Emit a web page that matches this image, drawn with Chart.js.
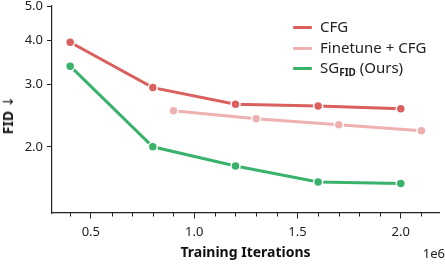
<!DOCTYPE html>
<html>
<head>
<meta charset="utf-8">
<script src="https://cdn.jsdelivr.net/npm/chart.js@4/dist/chart.umd.min.js"></script>
<style>
  html, body { margin: 0; padding: 0; background: #fff; }
  #wrap { position: relative; width: 445px; height: 265px; font-family: "Noto Sans", sans-serif; }
  #legend { position: absolute; left: 293px; top: 16px; font-size: 15px; color: #222; }
  .row { height: 20.5px; line-height: 20.5px; white-space: nowrap; }
  .swatch { display: inline-block; width: 19px; height: 3px; vertical-align: middle; margin-right: 8px; border-radius: 1px; }
  .sub { font-weight: bold; font-size: 10px; position: relative; top: 3px; }
  #offset { position: absolute; right: 0px; top: 244px; font-size: 13px; line-height: 18px; color: #222; }
  #ytitle { position: absolute; left: 8px; top: 115px; transform: translate(-50%, -50%) rotate(-90deg);
            font-size: 14px; font-weight: bold; line-height: 16px; color: #111; white-space: nowrap; }
  #ytitle .arrow { font-family: "DejaVu Sans", sans-serif; font-weight: normal; font-size: 14px; }
</style>
</head>
<body>
<div id="wrap">
  <canvas id="myChart" width="445" height="265"></canvas>
  <div id="legend">
    <div class="row"><span class="swatch" style="background:#d9605e"></span>CFG</div>
    <div class="row"><span class="swatch" style="background:#eeb0b0"></span>Finetune + CFG</div>
    <div class="row"><span class="swatch" style="background:#3bb26c"></span>SG<span class="sub">FID</span> (Ours)</div>
  </div>
  <div id="ytitle">FID <span class="arrow">↓</span></div>
  <div id="offset">1e6</div>
</div>
<script>
/* Data */
const cfgIters = [0.4e6, 0.8e6, 1.2e6, 1.6e6, 2.0e6];
const cfgFID = [3.95, 2.94, 2.64, 2.61, 2.56];

const finetuneIters = [0.9e6, 1.3e6, 1.7e6, 2.1e6];
const finetuneFID = [2.53, 2.40, 2.31, 2.22];

const sgIters = [0.4e6, 0.8e6, 1.2e6, 1.6e6, 2.0e6];
const sgFID = [3.38, 2.0, 1.765, 1.59, 1.575];

const yTicks = [2.0, 3.0, 4.0, 5.0];
const xMajorTicks = [0.5e6, 1.0e6, 1.5e6, 2.0e6];
const xMinorTicks = [0.4e6, 0.6e6, 0.7e6, 0.8e6, 0.9e6, 1.1e6, 1.2e6, 1.3e6, 1.4e6, 1.6e6, 1.7e6, 1.8e6, 1.9e6, 2.1e6];

const toPoints = (xs, ys) => xs.map((x, i) => ({ x: x, y: ys[i] }));

function lineSet(label, xs, ys, color) {
    return {
        label: label,
        data: toPoints(xs, ys),
        borderColor: color,
        backgroundColor: color,
        pointBackgroundColor: color,
        pointBorderColor: '#fff',
        pointBorderWidth: 1.5,
        pointRadius: 4.5,
        borderWidth: 3,
        tension: 0
    };
}

/* short minor ticks under the x axis */
const minorTicks = {
    id: 'minorTicks',
    afterDraw(chart) {
        const x = chart.scales.x;
        const ctx = chart.ctx;
        ctx.save();
        ctx.strokeStyle = '#222';
        ctx.lineWidth = 1;
        xMinorTicks.forEach(v => {
            const px = Math.round(x.getPixelForValue(v)) + 0.5;
            ctx.beginPath();
            ctx.moveTo(px, x.top);
            ctx.lineTo(px, x.top + 3.5);
            ctx.stroke();
        });
        ctx.restore();
    }
};

const font = { family: "Noto Sans", size: 13 };
const titleFont = { family: "Noto Sans", size: 14, weight: 'bold', lineHeight: 1 };

new Chart(document.getElementById('myChart'), {
    type: 'line',
    data: {
        datasets: [
            lineSet('CFG', cfgIters, cfgFID, '#d9605e'),
            lineSet('Finetune + CFG', finetuneIters, finetuneFID, '#eeb0b0'),
            lineSet('SG_FID (Ours)', sgIters, sgFID, '#3bb26c')
        ]
    },
    options: {
        responsive: false,
        animation: false,
        layout: { padding: { top: 6, right: 0, left: 0, bottom: 0 } },
        plugins: {
            legend: { display: false },
            tooltip: { enabled: false }
        },
        scales: {
            x: {
                type: 'linear',
                min: 0.312e6,
                max: 2.185e6,
                afterBuildTicks: s => { s.ticks = xMajorTicks.map(v => ({ value: v })); },
                afterFit: s => { s.height = 52; s.paddingLeft = 0; s.paddingRight = 0; },
                ticks: {
                    color: '#222',
                    font: font,
                    padding: 6,
                    maxRotation: 0,
                    callback: v => (v / 1e6).toFixed(1)
                },
                grid: { drawOnChartArea: false, drawTicks: true, tickLength: 5.5, color: '#222' },
                border: { color: '#222', width: 1.2 },
                title: {
                    display: true,
                    text: 'Training Iterations',
                    color: '#111',
                    font: titleFont,
                    padding: { top: 0, bottom: 5 }
                }
            },
            y: {
                type: 'logarithmic',
                min: 1.34,
                max: 5.0,
                afterBuildTicks: s => { s.ticks = yTicks.map(v => ({ value: v })); },
                afterFit: s => { s.width = 52; s.paddingTop = 0; s.paddingBottom = 0; },
                ticks: {
                    color: '#222',
                    font: font,
                    padding: 4,
                    callback: v => Number(v).toFixed(1)
                },
                grid: { drawOnChartArea: false, drawTicks: true, tickLength: 5, color: '#222' },
                border: { color: '#222', width: 1.2 },
                title: { display: false }
            }
        }
    },
    plugins: [minorTicks]
});
</script>
</body>
</html>
